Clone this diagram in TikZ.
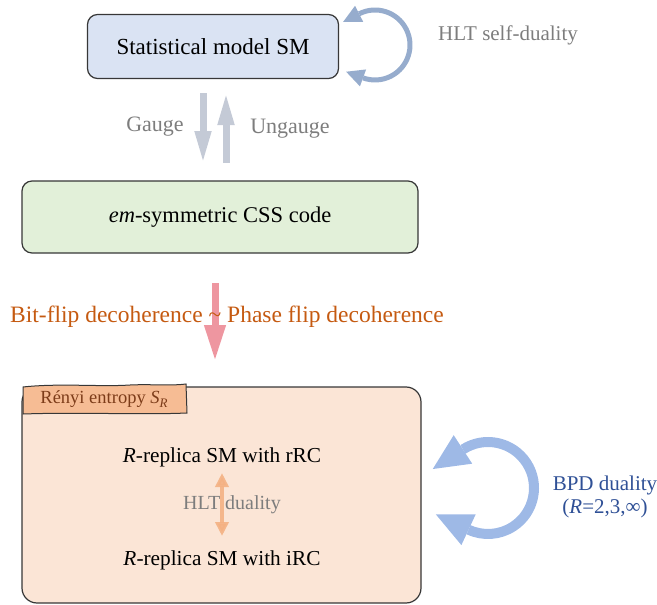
\documentclass[tikz,border=0pt]{standalone}
\usepackage{fontspec}
\setmainfont{Liberation Serif}
\usetikzlibrary{arrows.meta,calc}
\definecolor{smfill}{RGB}{218,227,243}
\definecolor{cssfill}{RGB}{226,240,217}
\definecolor{rfill}{RGB}{251,229,214}
\definecolor{tabfill}{RGB}{246,188,148}
\definecolor{tabtext}{RGB}{125,60,25}
\definecolor{boxline}{RGB}{55,55,55}
\definecolor{grayt}{RGB}{125,125,125}
\definecolor{decoh}{RGB}{197,90,17}
\definecolor{bpdt}{RGB}{47,80,150}
\definecolor{loopa}{RGB}{150,172,205}
\definecolor{loopb}{RGB}{158,185,230}
\definecolor{gaugea}{RGB}{196,202,214}
\definecolor{redarr}{RGB}{238,150,160}
\definecolor{orarr}{RGB}{244,177,131}
\newcommand\myfs[1]{\fontsize{#1}{#1}\selectfont}
\begin{document}
\begin{tikzpicture}[x=1pt,y=-1pt,
  box/.style={draw=boxline,line width=1.2pt,rounded corners=10pt,inner sep=0pt},
  txt/.style={inner sep=0pt,font=\myfs{21.3}},
  gtxt/.style={inner sep=0pt,text=grayt,font=\myfs{21}},
  bluetxt/.style={inner sep=0pt,text=bpdt,font=\myfs{21}},
  fatarrow/.style={line width=7pt,-{Triangle[width=15pt,length=33pt]}},
]
\useasboundingbox (0,0) rectangle (657,605);

% boxes
\node[box,fill=smfill,minimum width=251pt,minimum height=64pt,font=\myfs{23}] (sm) at (213,46.5) {Statistical model SM};
\node[box,fill=cssfill,minimum width=396pt,minimum height=72pt,font=\myfs{22.5}] (css) at (220,217) {\textit{em}-symmetric CSS code};
\node[box,fill=rfill,rounded corners=15pt,minimum width=399pt,minimum height=216pt] (rbox) at (221.5,495) {};

% tab
\draw[fill=tabfill,draw=boxline,line width=1pt]
  (23,387) .. controls (60,383) and (100,387) .. (130,385) .. controls (150,384) and (170,386) .. (186,384)
  -- (187,413) .. controls (140,415) and (80,412) .. (23,414) -- cycle;
\node[inner sep=0pt,text=tabtext,font=\myfs{18.5}] (tab) at (104,399) {Rényi entropy \textit{S}\raisebox{-0.25em}{\myfs{13}\textit{R}}};

% self loop (top)
\coordinate (c1) at (375,45);
\draw[loopa,line width=5pt] ($(c1)+(243:35)$) arc[start angle=243,end angle=470,radius=35];
\fill[loopa] ($(c1)+(243:35)+(153:18)$) -- ($(c1)+(243:35)+(63:9)$) -- ($(c1)+(243:35)+(243:9)$) -- cycle;
\fill[loopa] ($(c1)+(110:35)+(200:18)$) -- ($(c1)+(110:35)+(110:9)$) -- ($(c1)+(110:35)+(290:9)$) -- cycle;
\node[gtxt] (hlt) at (508,35) {HLT self-duality};

% gauge arrows
\coordinate (gd1) at (203,93); \coordinate (gd2) at (203,164);
\coordinate (gu1) at (226,163); \coordinate (gu2) at (226,92);
\draw[fatarrow,gaugea] (gd1) -- (gd2);
\draw[fatarrow,gaugea] (gu1) -- (gu2);
\node[gtxt,font=\myfs{22}] (gauge) at (155,127) {Gauge};
\node[gtxt,font=\myfs{22}] (ungauge) at (290,129) {Ungauge};

% decoherence arrow
\coordinate (rd1) at (215,283); \coordinate (rd2) at (215,361);
\draw[line width=7pt,redarr,-{Triangle[width=20pt,length=36pt]}] (rd1) -- (rd2);
\node[inner sep=0pt,text=decoh,font=\myfs{23.5}] (decoh) at (227,317) {Bit-flip decoherence \textasciitilde{} Phase flip decoherence};

% inside replica box
\node[txt] (rrc) at (222,457) {\textit{R}-replica SM with rRC};
\node[txt] (irc) at (222,560) {\textit{R}-replica SM with iRC};
\node[gtxt,font=\myfs{20}] (hltd) at (232,505) {HLT duality};
\coordinate (o1) at (222,473); \coordinate (o2) at (222,536);
\draw[line width=4pt,orarr,opacity=0.9,{Triangle[width=13pt,length=14pt]}-{Triangle[width=13pt,length=14pt]}] (o1) -- (o2);

% BPD loop
\coordinate (c2) at (488,488);
\draw[loopb,line width=10pt] ($(c2)+(237:46)$) arc[start angle=237,end angle=475,radius=46];
\fill[loopb] ($(c2)+(237:46)+(147:36)$) -- ($(c2)+(237:46)+(57:17)$) -- ($(c2)+(237:46)+(237:17)$) -- cycle;
\fill[loopb] ($(c2)+(115:46)+(205:36)$) -- ($(c2)+(115:46)+(115:17)$) -- ($(c2)+(115:46)+(295:17)$) -- cycle;
\node[bluetxt] (bpd) at (605,485) {BPD duality};
\node[bluetxt] (bpdr) at (605,508) {(\textit{R}=2,3,∞)};
\end{tikzpicture}
\end{document}
